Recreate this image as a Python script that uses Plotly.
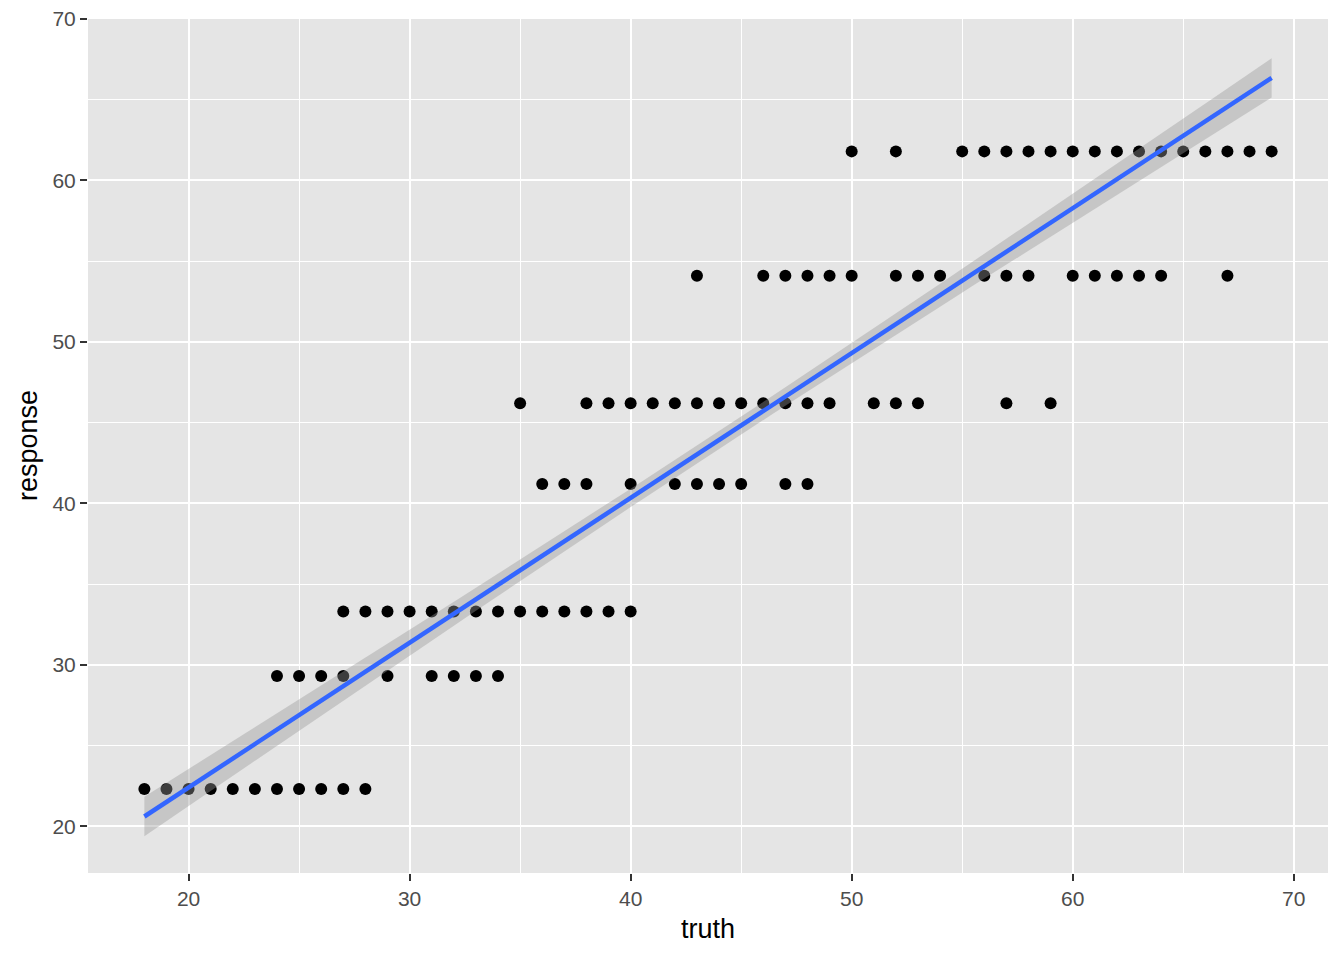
import numpy as np
import plotly.graph_objects as go

# response levels
levels = [22.3, 29.3, 33.3, 41.2, 46.2, 54.1, 61.8]
truth_by_level = {
    22.3: [18, 19, 20, 21, 22, 23, 24, 25, 26, 27, 28],
    29.3: [24, 25, 26, 27, 29, 31, 32, 33, 34],
    33.3: [27, 28, 29, 30, 31, 32, 33, 34, 35, 36, 37, 38, 39, 40],
    41.2: [36, 37, 38, 40, 42, 43, 44, 45, 47, 48],
    46.2: [35, 38, 39, 40, 41, 42, 43, 44, 45, 46, 47, 48, 49, 51, 52, 53, 57, 59],
    54.1: [43, 46, 47, 48, 49, 50, 52, 53, 54, 56, 57, 58, 60, 61, 62, 63, 64, 67],
    61.8: [50, 52, 55, 56, 57, 58, 59, 60, 61, 62, 63, 64, 65, 66, 67, 68, 69],
}

# fitted lm line: ends of the fit and half-width of the 95% band
fit_x_ends = [18, 69]
fit_y_ends = [20.6, 66.35]
band_half_end = 1.22     # half-width at the ends of the data range
band_half_mid = 0.55     # half-width at the centre of the data range

tick_vals = [20, 30, 40, 50, 60, 70]

truth = []
response = []
for lv in levels:
    for t in truth_by_level[lv]:
        truth.append(t)
        response.append(lv)

slope = (fit_y_ends[1] - fit_y_ends[0]) / (fit_x_ends[1] - fit_x_ends[0])
xm = 0.5 * (fit_x_ends[0] + fit_x_ends[1])
dx_end = fit_x_ends[1] - xm
c1 = (band_half_end ** 2 - band_half_mid ** 2) / dx_end ** 2
xx = np.linspace(fit_x_ends[0], fit_x_ends[1], 80)
yhat = fit_y_ends[0] + slope * (xx - fit_x_ends[0])
half = np.sqrt(band_half_mid ** 2 + c1 * (xx - xm) ** 2)
lo = yhat - half
hi = yhat + half

fig = go.Figure()
fig.add_trace(go.Scatter(x=truth, y=response, mode="markers",
                         marker=dict(color="black", size=12, line=dict(width=0)),
                         showlegend=False, hoverinfo="skip"))
fig.add_trace(go.Scatter(x=np.concatenate([xx, xx[::-1]]), y=np.concatenate([hi, lo[::-1]]),
                         fill="toself", fillcolor="rgba(153,153,153,0.4)", mode="lines",
                         line=dict(width=0), showlegend=False, hoverinfo="skip"))
fig.add_trace(go.Scatter(x=xx, y=yhat, mode="lines", line=dict(color="#3366FF", width=4.5),
                         showlegend=False, hoverinfo="skip"))

FONT = "Liberation Sans, Arial, Helvetica, sans-serif"
axis_common = dict(
    showgrid=True, gridcolor="white", gridwidth=2,
    minor=dict(showgrid=True, gridcolor="white", gridwidth=1, dtick=5),
    zeroline=False, ticks="outside", ticklen=7, tickwidth=2, tickcolor="#333333",
    tickfont=dict(family=FONT, size=21, color="#4D4D4D"),
    showline=False, automargin=False, tickvals=tick_vals,
    ticklabeloverflow="allow",
)
# the page body adds an 8 px offset, so the figure is sized to fit the window
plot_h = 952 - 11 - 87
fig.update_layout(
    width=1336, height=952,
    margin=dict(l=80, r=16, t=11, b=87),
    paper_bgcolor="white", plot_bgcolor="#E5E5E5",
    font=dict(family=FONT),
    xaxis=dict(range=[15.45, 71.55], **axis_common),
    yaxis=dict(range=[17.1, 70.0], **axis_common),
    annotations=[
        dict(text="truth", xref="paper", yref="paper", x=0.5, y=-56 / plot_h,
             xanchor="center", yanchor="middle", showarrow=False,
             font=dict(family=FONT, size=27, color="black")),
        dict(text="response", xref="paper", yref="paper", x=-(88 - 28) / 1240, y=0.5,
             xanchor="center", yanchor="middle", showarrow=False, textangle=-90,
             font=dict(family=FONT, size=27, color="black")),
    ],
)
fig.write_html("out.html")
